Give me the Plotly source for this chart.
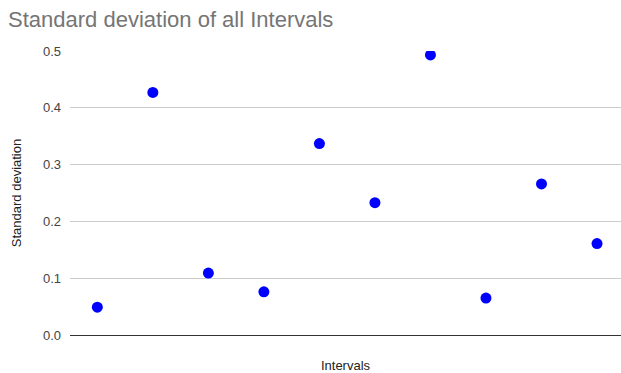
import plotly.graph_objects as go

# Standard deviation measured for each interval
intervals = [1, 2, 3, 4, 5, 6, 7, 8, 9, 10]
std_dev = [0.049, 0.427, 0.109, 0.076, 0.337, 0.233, 0.493, 0.065, 0.266, 0.161]
y_ticks = [0.0, 0.1, 0.2, 0.3, 0.4, 0.5]
y_tick_labels = ["0.0", "0.1", "0.2", "0.3", "0.4", "0.5"]

fig = go.Figure(
    go.Scatter(
        x=intervals,
        y=std_dev,
        mode="markers",
        marker=dict(color="#0000ff", size=11, line=dict(width=0)),
        hoverinfo="x+y",
    )
)

fig.update_layout(
    width=621,
    height=373,
    margin=dict(l=70, r=0, t=51, b=38),
    paper_bgcolor="white",
    plot_bgcolor="white",
    font=dict(family="Liberation Sans, Arial, sans-serif", color="#222222"),
    title=dict(
        text="Standard deviation of all Intervals",
        font=dict(size=22, color="#757575"),
        x=0.013,
        xanchor="left",
        y=0.97,
        yanchor="top",
    ),
    showlegend=False,
)

fig.update_xaxes(
    range=[0.508, 10.432],
    showticklabels=False,
    showgrid=False,
    zeroline=False,
    ticks="",
    title=dict(text="Intervals", font=dict(size=13, color="#222222"), standoff=29),
)

fig.update_yaxes(
    range=[0, 0.5],
    tickvals=y_ticks,
    ticktext=y_tick_labels,
    tickfont=dict(size=13, color="#444444"),
    showgrid=True,
    gridcolor="#cccccc",
    gridwidth=1,
    zeroline=True,
    zerolinecolor="#333333",
    zerolinewidth=1,
    ticks="",
    ticklabelstandoff=8,
    title=dict(text="Standard deviation", font=dict(size=13, color="#222222"), standoff=18),
)

fig.write_html("out.html")
